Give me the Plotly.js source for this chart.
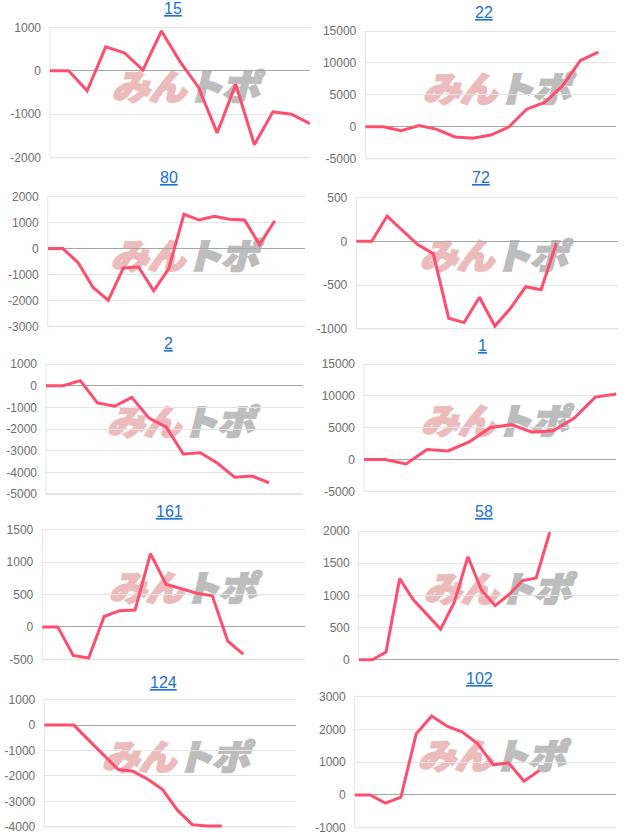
<!DOCTYPE html>
<html>
<head>
<meta charset="utf-8">
<script src="https://cdn.plot.ly/plotly-3.0.1.min.js"></script>
<style>
  html, body { margin: 0; padding: 0; background: #ffffff; }
  #wrap { position: relative; width: 626px; height: 837px; overflow: hidden; }
  #marks { position: absolute; left: 0; top: 0; width: 626px; height: 837px; z-index: 0; }
  #chart { position: absolute; left: 0; top: 0; width: 626px; height: 837px; z-index: 1; }
  .wm { position: absolute; white-space: nowrap; font-family: "Noto Sans CJK JP", sans-serif;
        font-weight: 900; font-size: 35px; line-height: 35px; letter-spacing: -1px;
        transform: translate(-50%, -50%) skewX(-14deg) scaleX(1.08); }
  .wm .a { color: #ecbcbc; -webkit-text-stroke: 2px #ecbcbc; }
  .wm .b { color: #bdbdbd; -webkit-text-stroke: 2px #bdbdbd; margin-left: 0px; }
</style>
</head>
<body>
<div id="wrap">
  <div id="marks"></div>
  <div id="chart"></div>
</div>
<script>
// ---- data ----
const titles = ['15', '22', '80', '72', '2', '1', '161', '58', '124', '102'];

const s15  = [0, 0, -460, 550, 415, 15, 915, 210, -385, -1430, -310, -1700, -945, -1000, -1215];
const s22  = [0, 0, -600, 200, -400, -1600, -1800, -1300, -50, 2750, 3800, 6400, 10400, 11700];
const s80  = [0, 0, -540, -1500, -2000, -750, -710, -1630, -770, 1320, 1100, 1240, 1130, 1100, 150, 1070];
const s72  = [0, 0, 290, 120, -40, -140, -880, -930, -640, -970, -770, -520, -555, -20];
const s2   = [0, 0, 230, -800, -950, -540, -1500, -1900, -3150, -3100, -3580, -4230, -4170, -4480];
const s1   = [0, 0, -700, 1550, 1350, 2750, 5000, 5500, 4300, 4500, 6500, 9800, 10300];
const s161 = [0, 0, -440, -480, 160, 250, 260, 1130, 660, 590, 520, 480, -220, -420];
const s58  = [0, 0, 120, 1260, 930, 700, 475, 890, 1600, 1080, 840, 1010, 1230, 1270, 1980];
const s124 = [0, 0, 0, -590, -1180, -1750, -1820, -2130, -2540, -3350, -3920, -3970, -3970];
const s102 = [0, 0, -250, -70, 1870, 2410, 2100, 1920, 1560, 920, 980, 420, 750];

const series = [s15, s22, s80, s72, s2, s1, s161, s58, s124, s102];

// number of x intervals on each panel's axis
const xIntervals = [14, 14, 17, 17, 15, 12, 17, 19, 17, 17];
// y tick settings [min, max, step]
const yMin  = [-2000, -5000, -3000, -1000, -5000, -5000, -500, 0, -4000, -1000];
const yMax  = [1000, 15000, 2000, 500, 1000, 15000, 1500, 2000, 1000, 3000];
const yStep = [1000, 5000, 1000, 500, 1000, 5000, 500, 500, 1000, 1000];

// ---- layout geometry (pixels) ----
const W = 626, H = 837;
// [left, right, topGrid, bottomGrid]
const boxes = [
  [50, 310, 27.3, 157.7],
  [365.3, 616.3, 31, 158.7],
  [47.7, 305, 196.7, 326.3],
  [356.3, 618, 197.7, 328.7],
  [46, 303.3, 364, 494],
  [364, 616.3, 364, 491.3],
  [42.3, 305, 529.7, 659.3],
  [358.7, 618, 531, 659.7],
  [44.3, 295.7, 699.7, 826.7],
  [354.7, 616.3, 696.7, 827.7]
];
const titlePos = [[173, 8], [484, 12], [169, 177], [481, 178], [168, 344], [482, 345], [169, 511], [484, 511], [163, 682], [479, 678]];
const wmPos = [[189, 84], [500, 86], [188, 253], [497, 253], [184, 419], [498, 418], [186, 585], [501, 586], [179, 754], [495, 753]];

const LINE = '#ff4d6d';
const traces = [];
const layout = {
  width: W, height: H,
  margin: {l: 0, r: 0, t: 0, b: 0},
  paper_bgcolor: 'rgba(0,0,0,0)',
  plot_bgcolor: 'rgba(0,0,0,0)',
  showlegend: false,
  font: {family: '"Liberation Sans", Arial, sans-serif', size: 12, color: '#6e6e6e'},
  annotations: [],
  shapes: []
};

const PAD = 2; // px padding top/bottom so lines at the edge are not clipped
series.forEach((ys, i) => {
  const n = i + 1;
  const xa = n === 1 ? 'x' : 'x' + n;
  const ya = n === 1 ? 'y' : 'y' + n;
  const [l, r, t, b] = boxes[i];
  const span = yMax[i] - yMin[i];
  const perPx = span / (b - t);
  const xs = ys.map((_, k) => k);
  traces.push({
    type: 'scatter', mode: 'lines', x: xs, y: ys, xaxis: xa, yaxis: ya,
    line: {color: LINE, width: 3}, hoverinfo: 'skip'
  });
  const tickvals = [];
  for (let v = yMin[i]; v <= yMax[i] + 1e-9; v += yStep[i]) tickvals.push(v);
  layout['xaxis' + (n === 1 ? '' : n)] = {
    domain: [l / W, r / W], anchor: ya, range: [0, xIntervals[i]],
    showgrid: false, zeroline: false, showticklabels: false, ticks: '',
    showline: false, fixedrange: true
  };
  layout['yaxis' + (n === 1 ? '' : n)] = {
    domain: [1 - (b + PAD) / H, 1 - (t - PAD) / H], anchor: xa,
    range: [yMin[i] - PAD * perPx, yMax[i] + PAD * perPx],
    tickmode: 'array', tickvals: tickvals, ticktext: tickvals.map(String),
    showgrid: true, gridcolor: '#e4e4e4', gridwidth: 1,
    zeroline: true, zerolinecolor: '#a6a6a6', zerolinewidth: 1,
    showline: false, ticks: '', ticklabelstandoff: 8,
    tickfont: {size: 12, color: '#6e6e6e'}, fixedrange: true
  };
  // faint vertical axis line at the left of the plot area
  layout.shapes.push({
    type: 'line', xref: 'paper', yref: 'paper', layer: 'below',
    x0: l / W, x1: l / W, y0: 1 - b / H, y1: 1 - t / H,
    line: {color: '#e6e6e6', width: 1}
  });
  // baseline at the bottom of the plot
  if (yMin[i] !== 0) {
    layout.shapes.push({
      type: 'line', xref: xa + ' domain', yref: ya, layer: 'below',
      x0: 0, x1: 1, y0: yMin[i], y1: yMin[i],
      line: {color: '#cdcdcd', width: 1}
    });
  }
  // title
  layout.annotations.push({
    xref: 'paper', yref: 'paper', x: titlePos[i][0] / W, y: 1 - titlePos[i][1] / H,
    xanchor: 'center', yanchor: 'middle', showarrow: false,
    text: '<u>' + titles[i] + '</u>',
    font: {family: '"Liberation Sans", Arial, sans-serif', size: 16, color: '#1a6fd6'}
  });
  // watermark behind the chart
  const d = document.createElement('div');
  d.className = 'wm';
  d.style.left = wmPos[i][0] + 'px';
  d.style.top = wmPos[i][1] + 'px';
  d.innerHTML = '<span class="a">みん</span><span class="b">トポ</span>';
  document.getElementById('marks').appendChild(d);
});

Plotly.newPlot('chart', traces, layout, {staticPlot: true, displayModeBar: false});
</script>
</body>
</html>
